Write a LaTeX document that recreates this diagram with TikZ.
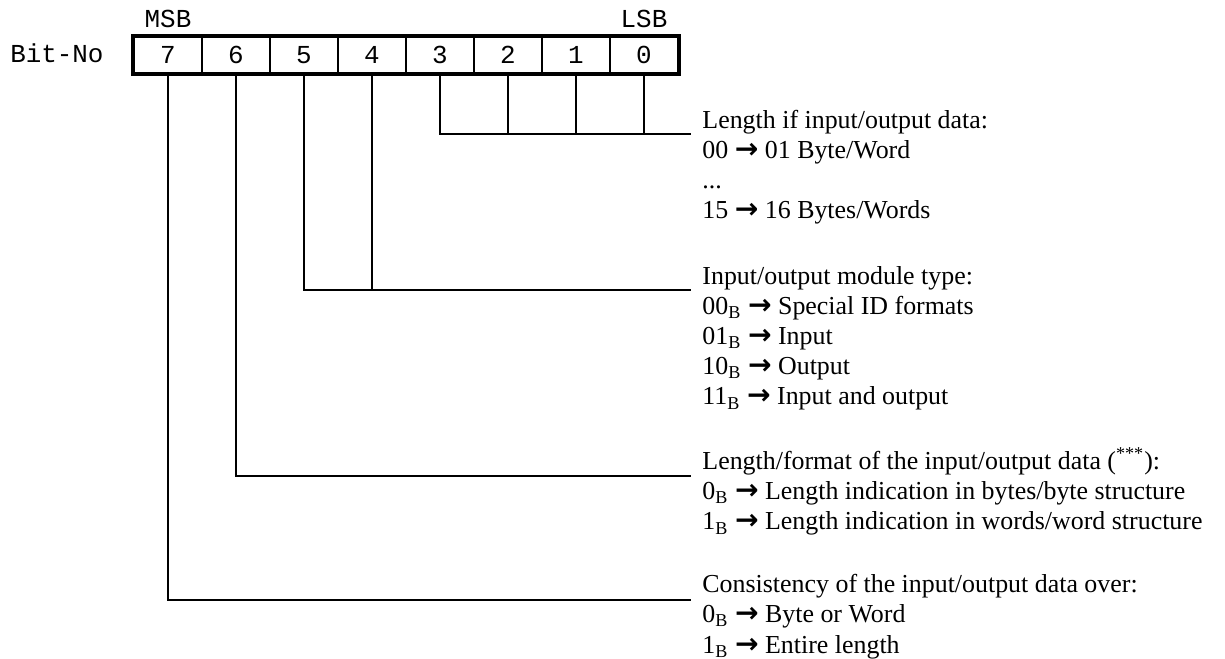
\documentclass[tikz,border=0pt]{standalone}
\usepackage{fontspec}
\setmainfont{Liberation Serif}
\setmonofont{Liberation Mono}
\newfontfamily\arrfont{DejaVu Sans}

\newcommand{\arr}{{\arrfont\bfseries\fontsize{12.5}{10}\selectfont →}}

\tikzset{
  cell/.style={draw,line width=0.9pt,minimum width=30.2pt,minimum height=16pt,
    inner sep=0pt,font=\ttfamily\fontsize{11.5}{12}\selectfont},
  mono/.style={inner sep=0pt,font=\ttfamily\fontsize{11.5}{12}\selectfont},
  note/.style={align=left,anchor=base west,inner sep=0pt,
    font=\fontsize{11.5}{13.4}\selectfont},
  wire/.style={line width=0.9pt}
}

\begin{document}
\begin{tikzpicture}[x=0.444pt,y=-0.444pt]

\useasboundingbox (0,0) rectangle (1225,659);

% bit cells
\node[cell]
(b7)
at (168,55)
{7};

\node[cell]
(b6)
at (236,55)
{6};

\node[cell]
(b5)
at (304,55)
{5};

\node[cell]
(b4)
at (372,55)
{4};

\node[cell]
(b3)
at (440,55)
{3};

\node[cell]
(b2)
at (508,55)
{2};

\node[cell]
(b1)
at (576,55)
{1};

\node[cell]
(b0)
at (644,55)
{0};

\draw[line width=1.6pt] (b7.north west) rectangle (b0.south east);

\node[mono,anchor=base]
(msb)
at (168,28)
{MSB};

\node[mono,anchor=base]
(lsb)
at (644,28)
{LSB};

\node[mono,anchor=base east]
(bitno)
at (104,63)
{Bit-No};

% descriptions (base = last line)
\node[note]
(len)
at (702,219)
{Length if input/output data:\\
00 \arr{} 01 Byte/Word\\
...\\
15 \arr{} 16 Bytes/Words};

\node[note]
(type)
at (702,405)
{Input/output module type:\\
00\textsubscript{B} \arr{} Special ID formats\\
01\textsubscript{B} \arr{} Input\\
10\textsubscript{B} \arr{} Output\\
11\textsubscript{B} \arr{} Input and output};

\node[note]
(fmt)
at (702,530)
{Length/format of the input/output data (\textsuperscript{***}):\\
0\textsubscript{B} \arr{} Length indication in bytes/byte structure\\
1\textsubscript{B} \arr{} Length indication in words/word structure};

\node[note]
(cons)
at (702,653)
{Consistency of the input/output data over:\\
0\textsubscript{B} \arr{} Byte or Word\\
1\textsubscript{B} \arr{} Entire length};

\coordinate (e1) at (691,134);
\coordinate (e2) at (691,290);
\coordinate (e3) at (691,476);
\coordinate (e4) at (691,600);

% bits 3..0
\draw[wire] (b3.south) |- (e1);
\draw[wire] (b2.south) -- (b2.south |- e1);
\draw[wire] (b1.south) -- (b1.south |- e1);
\draw[wire] (b0.south) -- (b0.south |- e1);

% bits 5..4
\draw[wire] (b5.south) |- (e2);
\draw[wire] (b4.south) -- (b4.south |- e2);

% bit 6
\draw[wire] (b6.south) |- (e3);

% bit 7
\draw[wire] (b7.south) |- (e4);

\end{tikzpicture}
\end{document}
